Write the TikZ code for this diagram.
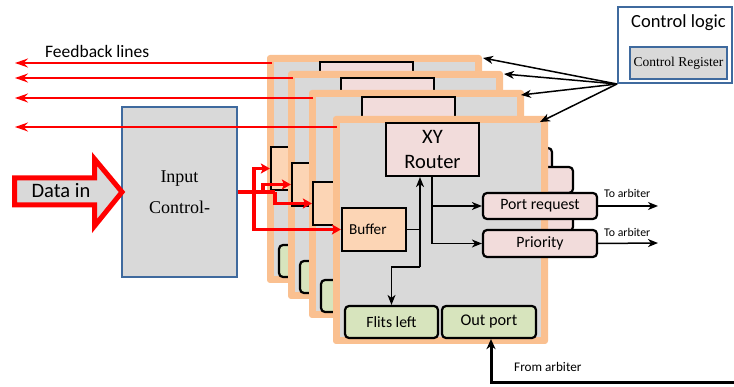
\documentclass[tikz,border=0pt]{standalone}
\usepackage{fontspec}
\setmainfont{Carlito}
\newfontfamily\timesfont{Liberation Serif}
\usetikzlibrary{arrows.meta,calc}

\definecolor{framepeach}{RGB}{250,192,144}
\definecolor{framegray}{RGB}{217,217,217}
\definecolor{pinkc}{RGB}{242,220,219}
\definecolor{buffc}{RGB}{252,213,181}
\definecolor{greenc}{RGB}{215,228,189}
\definecolor{ctlblue}{RGB}{63,106,158}

\newif\iflayertext

\tikzset{
  blkbox/.style={draw=black, line width=2.2pt, inner sep=0pt},
  pinkbox/.style={blkbox, fill=pinkc},
  pinkround/.style={blkbox, fill=pinkc, rounded corners=4pt},
  greenbox/.style={blkbox, fill=greenc, rounded corners=4pt},
  bufbox/.style={blkbox, fill=buffc},
  blkline/.style={line width=1.5pt, black},
  blkarrow/.style={blkline, -{Stealth[length=10pt,width=8pt,inset=3pt]}},
  redline/.style={line width=3.5pt, red},
  redarrow/.style={redline, -{Stealth[length=9pt,width=10pt,inset=2pt]}},
  fbarrow/.style={line width=1.5pt, red, -{Stealth[length=13pt,width=9pt,inset=4.5pt]}},
  blueframe/.style={draw=ctlblue, line width=2pt, inner sep=0pt},
}

% one router layer: #1 name suffix, #2/#3 top-left corner, #4 buffer inset
\newcommand{\routerlayer}[4]{%
  \begin{scope}[shift={(#2,#3)}]
    \fill[framepeach, rounded corners=3pt] (0,0) rectangle (215,228);
    \fill[framegray] (7,7) rectangle (208,221);
    \node[pinkbox, minimum width=93pt, minimum height=53pt, align=center,
          font=\fontsize{20.5}{25}\selectfont] (rt#1) at (99.5,33.5)
          {\iflayertext XY\\Router\fi};
    \node[bufbox, minimum width=64pt, minimum height=43pt, text width=50pt,
          inner xsep=7pt, align=left, font=\fontsize{15.2}{18}\selectfont]
          (buf#1) at (#4+32,113.5) {\iflayertext Buffer\fi};
    \node[pinkround, minimum width=114pt, minimum height=26pt,
          font=\fontsize{15.8}{18}\selectfont] (pr#1) at (207,90)
          {\iflayertext Port request\fi};
    \node[pinkround, minimum width=114pt, minimum height=27pt,
          font=\fontsize{15.8}{18}\selectfont] (pri#1) at (207,127.5)
          {\iflayertext Priority\fi};
    \node[greenbox, minimum width=93pt, minimum height=32pt,
          font=\fontsize{15.7}{18}\selectfont] (fl#1) at (58.5,206)
          {\iflayertext Flits left\fi};
    \node[greenbox, minimum width=94pt, minimum height=32pt,
          font=\fontsize{16.3}{19}\selectfont] (op#1) at (156,206)
          {\iflayertext Out port\fi};
  \end{scope}}

\begin{document}
\begin{tikzpicture}[x=1pt, y=-1pt]
\useasboundingbox (0,0) rectangle (734,387);

% input control block
\node[blueframe, fill=framegray, minimum width=115pt, minimum height=170pt,
      align=center, font=\timesfont\fontsize{18}{31}\selectfont]
      (ic) at (179.5,192) {Input\\Control-};

% data in block arrow
\draw[red, line width=5pt, fill=framegray, miter limit=10]
  (14.5,178) -- (94.5,178) -- (94.5,159) -- (122,192) -- (94.5,226)
  -- (94.5,205) -- (14.5,205) -- cycle;
\node[font=\fontsize{20.5}{24}\selectfont, anchor=base] (din) at (61,198) {Data in};

% stacked router layers, back to front
\layertextfalse
\routerlayer{1}{267}{55}{4}
\routerlayer{2}{288}{71}{4}
\routerlayer{3}{309}{90}{4}
\layertexttrue
\routerlayer{4}{333}{116}{9}

% connections inside the front layer
\coordinate (bj) at (420,267);
\coordinate (rd) at (432,176);
\draw[blkline] (buf4.east) -- (buf4.east -| bj);
\draw[blkarrow] (bj) -- (bj |- rt4.south);
\draw[blkarrow] (bj) -| (fl4.north);
\draw[blkarrow] (rd) |- (pr4.west);
\draw[blkarrow] (rd) |- (pri4.west);

% requests to the arbiter
\coordinate (ta1) at (658,206);
\coordinate (ta2) at (658,243);
\draw[blkarrow] (pr4.east) -- (ta1);
\draw[blkarrow] (pri4.east) -- (ta2);
\node[font=\fontsize{11.8}{14}\selectfont, anchor=base west, inner sep=0pt]
  (tal1) at (604,198) {To arbiter};
\node[font=\fontsize{11.8}{14}\selectfont, anchor=base west, inner sep=0pt]
  (tal2) at (604,237) {To arbiter};

% grant from the arbiter
\coordinate (fa) at (736,383);
\draw[line width=3pt, -{Stealth[length=10pt,width=9pt,inset=3pt]}]
  (fa) -| ([xshift=2pt]op4.south);
\node[font=\fontsize{13.2}{16}\selectfont, anchor=base west, inner sep=0pt]
  (fal) at (514,372) {From arbiter};

% feedback lines
\node[font=\fontsize{17.5}{21}\selectfont, anchor=base west, inner sep=0pt]
  (fbl) at (45,58) {Feedback lines};
\coordinate (fb1) at (272,63);  \coordinate (fe1) at (15,63);
\coordinate (fb2) at (293,78);  \coordinate (fe2) at (15,78);
\coordinate (fb3) at (313,98);  \coordinate (fe3) at (15,98);
\coordinate (fb4) at (337,127); \coordinate (fe4) at (15,127);
\foreach \i in {1,...,4} \draw[fbarrow] (fb\i) -- (fe\i);

% data distribution to the buffers
\coordinate (ra) at (254,192);
\coordinate (rb) at (263,192);
\coordinate (rc) at (275,192);
\draw[redline] (ic.east) -- (rc);
\draw[redarrow] (ra) |- (buf1.west);
\draw[redarrow] (ra) |- (buf4.west);
\draw[redarrow] (rb) |- (buf2.west);
\draw[redarrow] (rc) |- (buf3.west);

% control logic
\node[blueframe, fill=white, minimum width=114pt, minimum height=76pt]
  (cl) at (675,45) {};
\node[font=\fontsize{18.5}{22}\selectfont, anchor=base west, inner sep=0pt]
  (clt) at (631,28) {Control logic};
\node[blueframe, fill=framegray, minimum width=97pt, minimum height=32pt,
      font=\timesfont\fontsize{13.5}{16}\selectfont] (cr) at (678.5,63)
  {Control Register};

\coordinate (ct1) at (483,58);
\coordinate (ct2) at (504,74);
\coordinate (ct3) at (521,95);
\coordinate (ct4) at (540,122);
\foreach \i in {1,...,4} \draw[blkarrow] (cl.south west) -- (ct\i);

\end{tikzpicture}
\end{document}
